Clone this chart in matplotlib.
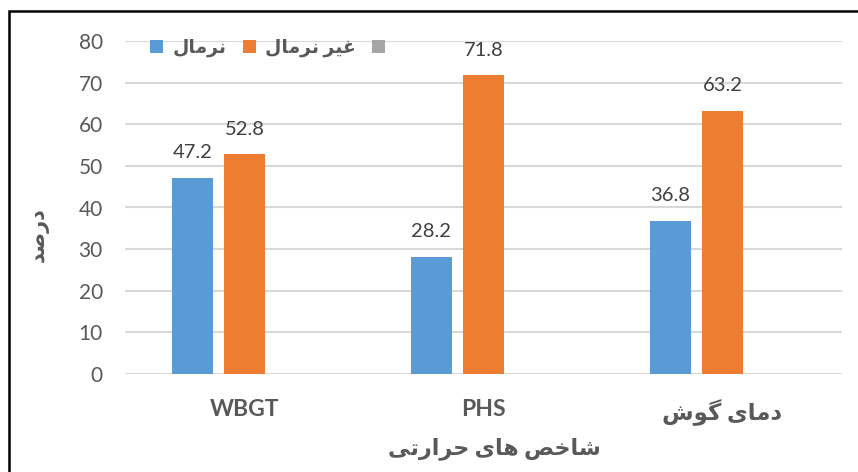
import matplotlib
matplotlib.use("Agg")
import matplotlib.pyplot as plt
from matplotlib.patches import Rectangle
import numpy as np


CATEGORIES = ["WBGT", "PHS", "دمای گوش"]
NORMAL = [47.2, 28.2, 36.8]
ABNORMAL = [52.8, 71.8, 63.2]
EMPTY = [0, 0, 0]

SERIES_NAMES = ["نرمال", "غیر نرمال", " "]
Y_LABEL = "درصد"
X_LABEL = "شاخص های حرارتی"
Y_TICKS = [0, 10, 20, 30, 40, 50, 60, 70, 80]

COLORS = ["#5B9BD5", "#ED7D31", "#A5A5A5"]
TEXT_COLOR = "#595959"

# presentation forms: isolated, final, initial, medial (2 entries = no left join)
FORMS = {
    "ا": ("\uFE8D", "\uFE8E"),
    "د": ("\uFEA9", "\uFEAA"),
    "ر": ("\uFEAD", "\uFEAE"),
    "و": ("\uFEED", "\uFEEE"),
    "ت": ("\uFE95", "\uFE96", "\uFE97", "\uFE98"),
    "ح": ("\uFEA1", "\uFEA2", "\uFEA3", "\uFEA4"),
    "خ": ("\uFEA5", "\uFEA6", "\uFEA7", "\uFEA8"),
    "ش": ("\uFEB5", "\uFEB6", "\uFEB7", "\uFEB8"),
    "ص": ("\uFEB9", "\uFEBA", "\uFEBB", "\uFEBC"),
    "غ": ("\uFECD", "\uFECE", "\uFECF", "\uFED0"),
    "ل": ("\uFEDD", "\uFEDE", "\uFEDF", "\uFEE0"),
    "م": ("\uFEE1", "\uFEE2", "\uFEE3", "\uFEE4"),
    "ن": ("\uFEE5", "\uFEE6", "\uFEE7", "\uFEE8"),
    "ه": ("\uFEE9", "\uFEEA", "\uFEEB", "\uFEEC"),
    "ی": ("\uFBFC", "\uFBFD", "\uFBFE", "\uFBFF"),
    "گ": ("\uFB92", "\uFB93", "\uFB94", "\uFB95"),
}


def shape(text):
    # only reshape pure persian strings, latin stays as is
    if not any(ch in FORMS for ch in text):
        return text
    out = []
    for i, ch in enumerate(text):
        if ch not in FORMS:
            out.append(ch)
            continue
        prev = text[i - 1] if i > 0 else ""
        nxt = text[i + 1] if i + 1 < len(text) else ""
        join_prev = prev in FORMS and len(FORMS[prev]) == 4
        join_next = len(FORMS[ch]) == 4 and nxt in FORMS
        forms = FORMS[ch]
        if join_prev and join_next:
            out.append(forms[3])
        elif join_prev:
            out.append(forms[1])
        elif join_next:
            out.append(forms[2])
        else:
            out.append(forms[0])
    return "".join(reversed(out))


plt.rcParams["font.family"] = ["Lato", "DejaVu Sans"]

fig = plt.figure(figsize=(8.58, 4.72), dpi=100)
ax = fig.add_axes([125 / 858, 1 - 374 / 472, 717 / 858, 333 / 472])

x = np.arange(len(CATEGORIES))
width = 0.1715
step = 0.2176

all_series = [NORMAL, ABNORMAL, EMPTY]
for k, (values, name, color) in enumerate(zip(all_series, SERIES_NAMES, COLORS)):
    pos = x + (k - 1) * step
    bars = ax.bar(pos, values, width, color=color, label=shape(name), zorder=3)
    if k < 2:
        for rect, v in zip(bars, values):
            ax.annotate(
                f"{v:.1f}",
                (rect.get_x() + rect.get_width() / 2, v),
                xytext=(0, 18),
                textcoords="offset points",
                ha="center",
                va="center",
                fontsize=14.5,
                color="#404040",
            )

ax.set_xlim(-0.5, 2.5)
ax.set_ylim(0, 80)
ax.set_yticks(Y_TICKS)
ax.yaxis.grid(True, color="#D9D9D9", linewidth=1.5, zorder=0)
ax.set_axisbelow(True)
for spine in ax.spines.values():
    spine.set_visible(False)

ax.tick_params(axis="y", length=0, pad=16, labelsize=15, labelcolor=TEXT_COLOR)
ax.tick_params(axis="x", length=0, pad=18, labelsize=16.5, labelcolor=TEXT_COLOR)
ax.set_xticks(x)
ax.set_xticklabels([shape(c) for c in CATEGORIES], fontweight="bold")

ax.set_ylabel(shape(Y_LABEL), fontsize=15, fontweight="bold", color=TEXT_COLOR)
ax.yaxis.set_label_coords(-0.107, 0.42)
ax.set_xlabel(shape(X_LABEL), fontsize=16, fontweight="bold", color=TEXT_COLOR)
ax.xaxis.set_label_coords(0.515, -0.19)

leg = ax.legend(
    loc="center left",
    bbox_to_anchor=(0.035, 0.979),
    ncol=3,
    frameon=False,
    borderpad=0,
    borderaxespad=0,
    handlelength=0.7,
    handleheight=0.7,
    handletextpad=0.5,
    columnspacing=0.85,
    prop={"weight": "bold", "size": 13.5},
)
for t in leg.get_texts():
    t.set_color(TEXT_COLOR)

fig.patches.append(
    Rectangle(
        (9 / 858, -0.2),
        1.5,
        1.2 - 11 / 472,
        transform=fig.transFigure,
        fill=False,
        edgecolor="black",
        linewidth=1.8,
    )
)

fig.savefig("out.png", dpi=100)
